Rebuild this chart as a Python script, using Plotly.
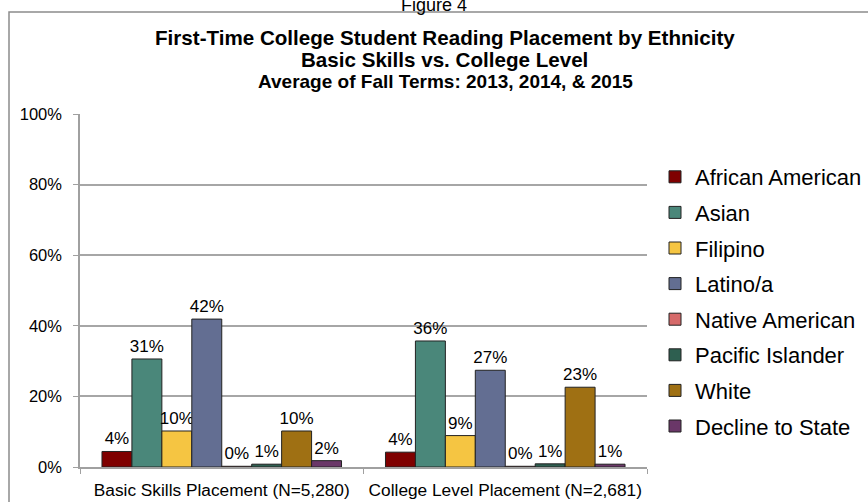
import plotly.graph_objects as go

categories = ["Basic Skills Placement (N=5,280)", "College Level Placement (N=2,681)"]
ethnicities = ["African American", "Asian", "Filipino", "Latino/a", "Native American",
               "Pacific Islander", "White", "Decline to State"]
basic_skills = [4.4, 30.6, 10.2, 41.9, 0.2, 0.8, 10.2, 1.8]
college_level = [4.2, 35.7, 8.9, 27.4, 0.2, 0.9, 22.6, 0.8]
colors = ["#7f0000", "#4a877a", "#f5c542", "#636e92", "#d66a6a", "#2e5f50", "#9f7013", "#6a3768"]
y_ticks = [0, 20, 40, 60, 80, 100]
y_tick_labels = ["0%", "20%", "40%", "60%", "80%", "100%"]

W, H = 868, 502
L, R, T, B = 80, 647, 114, 467


def px_x(px):
    return (px - L) / (R - L)


def px_y(py):
    return (B - py) / (B - T)


font = "Liberation Sans, Arial"

fig = go.Figure()
for i, name in enumerate(ethnicities):
    vals = [basic_skills[i], college_level[i]]
    fig.add_trace(go.Bar(
        x=categories, y=vals, name=name,
        marker=dict(color=colors[i], line=dict(color="#222222", width=1)),
        text=vals, texttemplate="%{y:.0f}%", textposition="outside",
        constraintext="none", cliponaxis=False,
        textfont=dict(family=font, size=17, color="#000000"),
        legendgroup=name, hoverinfo="skip",
    ))

annotations = [
    dict(text="Figure 4", x=px_x(434), y=px_y(5), xref="paper", yref="paper",
         showarrow=False, font=dict(family=font, size=18, color="#000"), xanchor="center", yanchor="middle"),
    dict(text="<b>First-Time College Student Reading Placement by Ethnicity</b>", x=px_x(445), y=px_y(37),
         xref="paper", yref="paper", showarrow=False, font=dict(family=font, size=20.6, color="#000"),
         xanchor="center", yanchor="middle"),
    dict(text="<b>Basic Skills vs. College Level</b>", x=px_x(444), y=px_y(59),
         xref="paper", yref="paper", showarrow=False, font=dict(family=font, size=20.6, color="#000"),
         xanchor="center", yanchor="middle"),
    dict(text="<b>Average of Fall Terms: 2013, 2014, &amp; 2015</b>", x=px_x(445), y=px_y(82),
         xref="paper", yref="paper", showarrow=False, font=dict(family=font, size=19, color="#000"),
         xanchor="center", yanchor="middle"),
]

shapes = [
    dict(type="rect", xref="paper", yref="paper", x0=px_x(9), x1=px_x(880), y0=px_y(12), y1=px_y(520),
         line=dict(color="#8c8c8c", width=1.5), fillcolor="rgba(0,0,0,0)", layer="below"),
]

fig.update_layout(
    width=W, height=H,
    margin=dict(l=L, r=W - R, t=T, b=H - B, pad=0, autoexpand=False),
    paper_bgcolor="white", plot_bgcolor="white",
    barmode="group", bargap=0.155, bargroupgap=0,
    font=dict(family=font, size=16, color="#000"),
    showlegend=True,
    legend=dict(x=px_x(655), y=px_y(156), xanchor="left", yanchor="top",
                font=dict(family=font, size=22, color="#000"),
                tracegroupgap=4, bgcolor="rgba(0,0,0,0)"),
    annotations=annotations, shapes=shapes,
    xaxis=dict(showline=True, linecolor="#a0a0a0", linewidth=1.5, ticks="outside", tickson="boundaries",
               ticklen=5, tickcolor="#a0a0a0", showgrid=False, ticklabelstandoff=6,
               tickangle=0, automargin=False,
               tickfont=dict(family=font, size=17.3, color="#000")),
    yaxis=dict(range=[0, 100], tickmode="array", tickvals=y_ticks, ticktext=y_tick_labels,
               showline=True, linecolor="#a0a0a0", automargin=False,
               linewidth=1.5, ticks="outside", ticklen=5, tickcolor="#a0a0a0",
               showgrid=True, gridcolor="#a6a6a6", gridwidth=1.5, zeroline=False,
               ticklabelstandoff=8,
               tickfont=dict(family=font, size=16.5, color="#000")),
)

fig.write_html("out.html", config={"displayModeBar": False},
               post_script="document.body.style.margin='0';document.body.style.overflow='hidden';")
